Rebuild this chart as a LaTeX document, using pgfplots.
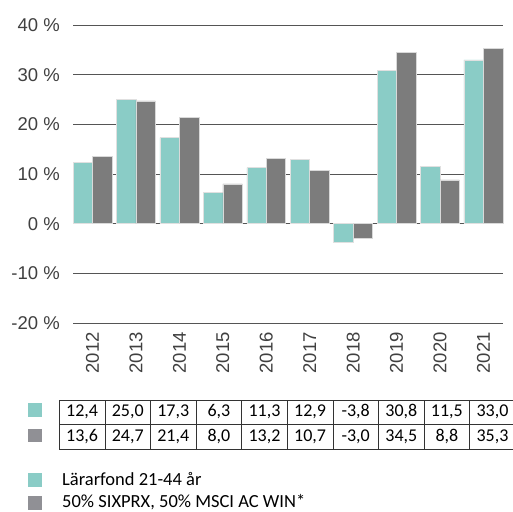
\documentclass[border=0pt]{standalone}
\usepackage{pgfplots}
\usepackage{pgfplotstable}
\pgfplotsset{compat=1.18}
\usepackage{fontspec}
\setmainfont{Carlito}
\newfontfamily\arialfont{Liberation Sans}
\definecolor{tealbar}{HTML}{8ACCC6}
\definecolor{greybar}{HTML}{7C7C7C}
\definecolor{greysq}{HTML}{909095}
\definecolor{gridc}{HTML}{555555}
\definecolor{labc}{HTML}{404040}
\pgfplotstableread{
x a b
0 12.4 13.6
1 25.0 24.7
2 17.3 21.4
3 6.3 8.0
4 11.3 13.2
5 12.9 10.7
6 -3.8 -3.0
7 30.8 34.5
8 11.5 8.8
9 33.0 35.3
}\data
\begin{document}
\begin{tikzpicture}
\path[use as bounding box] (0,0) rectangle (513bp,512bp);
\begin{axis}[
  at={(73bp,189bp)}, anchor=south west,
  scale only axis, width=430bp, height=298bp,
  xmin=-0.45, xmax=9.45, ymin=-20, ymax=40,
  xtick={0,...,9},
  xticklabels={2012,2013,2014,2015,2016,2017,2018,2019,2020,2021},
  ytick={-20,-10,0,10,20,30,40},
  yticklabels={-20 \%,-10 \%,0 \%,10 \%,20 \%,30 \%,40 \%},
  axis line style={draw=none},
  major tick length=0pt,
  ymajorgrids,
  grid style={draw=gridc, line width=0.8bp},
  yticklabel style={anchor=east, inner sep=0pt, xshift=-13bp, font=\arialfont\fontsize{18.5bp}{22bp}\selectfont, text=labc},
  xticklabel style={rotate=90, anchor=east, inner sep=0pt, font=\arialfont\fontsize{18.5bp}{22bp}\selectfont, text=labc},
  xticklabel shift=9bp,
  clip=false,
]
\addplot[ybar, bar width=0.448, bar shift=-0.224, fill=tealbar, draw=black!12, line width=0.5bp] table[x=x, y=a] {\data};
\addplot[ybar, bar width=0.448, bar shift=0.224, fill=greybar, draw=black!15, line width=0.5bp] table[x=x, y=b] {\data};
\end{axis}
% data table
\foreach \yy in {63,88,112} {\draw[black!80, line width=0.8bp] (59.3bp,\yy bp) -- (520bp,\yy bp);}
\foreach \k in {0,...,10} {\pgfmathsetmacro\xx{59.3+45.6*\k}\draw[black!80, line width=0.8bp] (\xx bp,63bp) -- (\xx bp,112bp);}
\pgfplotstableforeachcolumnelement{a}\of\data\as\cell{%
  \pgfmathsetmacro\xx{82.1+45.6*\pgfplotstablerow}%
  \node[anchor=base, inner sep=0pt, font=\fontsize{18bp}{21bp}\selectfont] at (\xx bp,95bp) {\pgfmathprintnumber[assume math mode=true, use comma, fixed, fixed zerofill, precision=1]{\cell}};
}
\pgfplotstableforeachcolumnelement{b}\of\data\as\cell{%
  \pgfmathsetmacro\xx{82.1+45.6*\pgfplotstablerow}%
  \node[anchor=base, inner sep=0pt, font=\fontsize{18bp}{21bp}\selectfont] at (\xx bp,70bp) {\pgfmathprintnumber[assume math mode=true, use comma, fixed, fixed zerofill, precision=1]{\cell}};
}
\fill[tealbar] (28bp,95bp) rectangle (42bp,109bp);
\fill[greysq] (28bp,70bp) rectangle (42bp,83bp);
% legend
\fill[tealbar] (28bp,25bp) rectangle (42bp,39bp);
\fill[greysq] (28bp,2bp) rectangle (42bp,16bp);
\node[anchor=base west, inner sep=0pt, font=\fontsize{18.5bp}{22bp}\selectfont] at (62bp,27bp) {Lärarfond 21-44 år};
\node[anchor=base west, inner sep=0pt, font=\fontsize{18.5bp}{22bp}\selectfont] at (62bp,4.5bp) {50\% SIXPRX, 50\% MSCI AC WIN*};
\end{tikzpicture}
\end{document}
